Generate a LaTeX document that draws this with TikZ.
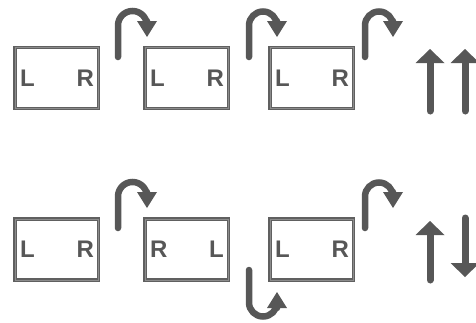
\documentclass[tikz,border=0pt]{standalone}
\usepackage{fontspec}
\setsansfont{Liberation Sans}
\newcommand\sidefont{\sffamily\bfseries\fontsize{24pt}{26pt}\selectfont}
\usetikzlibrary{arrows.meta,positioning}
\definecolor{framegray}{HTML}{606060}
\definecolor{inkgray}{HTML}{575757}
\tikzset{
	panel/.style={draw=framegray, line width=1.6pt, double=black!45, double distance=0.4pt,
		minimum width=83.6pt, minimum height=61pt, inner sep=0pt},
	side/.style={text=inkgray, inner sep=0pt, font=\sidefont},
	hook/.style={draw=inkgray, line width=6.5pt, line cap=round,
		-{Triangle[width=20pt,length=16pt,line width=0pt]}},
	spin/.style={draw=inkgray, line width=7pt, line cap=round,
		-{Triangle[width=29pt,length=14pt,line width=0pt]}}
}

\begin{document}
\begin{tikzpicture}[x=1pt, y=-1pt]
			%%%%% START %%%%%
			\useasboundingbox (0, 0) rectangle (476, 322);
			
			% top row
			\node[panel] (t1) at (56.5, 78) {};
			\node[panel] (t2) at (186.5, 78) {};
			\node[panel] (t3) at (311.5, 78) {};
			\node[side, right=6pt of t1.west] (t1l) {L};
			\node[side, left=5pt of t1.east] (t1r) {R};
			\node[side, right=6pt of t2.west] (t2l) {L};
			\node[side, left=5pt of t2.east] (t2r) {R};
			\node[side, right=6pt of t3.west] (t3l) {L};
			\node[side, left=5pt of t3.east] (t3r) {R};
			
			\draw[hook] (118, 57) -- (118, 25.5) arc (180:360:14.5) -- (147, 37);
			\draw[hook] (249, 57) -- (249, 25.5) arc (180:360:14) -- (277, 37);
			\draw[hook] (365, 57) -- (365, 25.5) arc (180:360:14) -- (393, 37);
			
			\draw[spin] (430, 111) -- (430, 49);
			\draw[spin] (465, 111) -- (465, 49);
			
			% bottom row
			\node[panel] (b1) at (56.5, 249.5) {};
			\node[panel] (b2) at (186.5, 249.5) {};
			\node[panel] (b3) at (311.5, 249.5) {};
			\node[side, right=6pt of b1.west] (b1l) {L};
			\node[side, left=5pt of b1.east] (b1r) {R};
			\node[side, right=6pt of b2.west] (b2r) {R};
			\node[side, left=5pt of b2.east] (b2l) {L};
			\node[side, right=6pt of b3.west] (b3l) {L};
			\node[side, left=5pt of b3.east] (b3r) {R};
			
			\draw[hook] (118, 228) -- (118, 196.5) arc (180:360:14.5) -- (147, 208);
			\draw[hook] (249, 270) -- (249, 302.5) arc (180:0:14) -- (277, 292);
			\draw[hook] (365, 228) -- (365, 196.5) arc (180:360:14) -- (393, 208);
			
			\draw[spin] (430, 280) -- (430, 221);
			\draw[spin] (465, 218) -- (465, 277);
			%%%%% END %%%%%
		\end{tikzpicture}
\end{document}
